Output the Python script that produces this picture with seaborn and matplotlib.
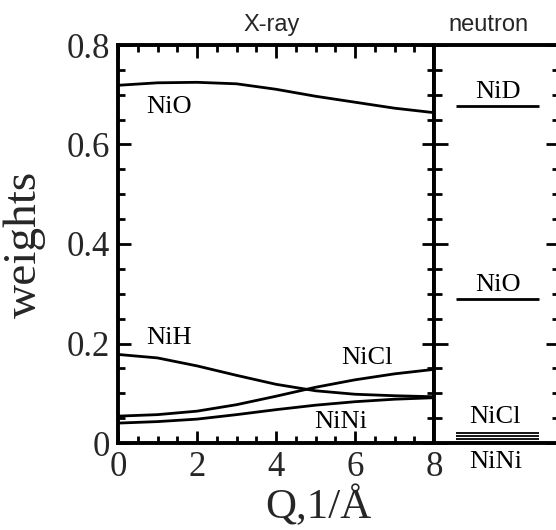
import numpy as np
import pandas as pd
import matplotlib
matplotlib.use("Agg")
import matplotlib.pyplot as plt
import seaborn as sns
from matplotlib.ticker import MultipleLocator, FuncFormatter

# ---- data ----
q = [0, 1, 2, 3, 4, 5, 6, 7, 8]
w_NiO = [0.719, 0.724, 0.725, 0.722, 0.711, 0.697, 0.685, 0.673, 0.664]
w_NiH = [0.178, 0.171, 0.155, 0.136, 0.118, 0.105, 0.098, 0.095, 0.093]
w_NiCl = [0.054, 0.057, 0.064, 0.077, 0.094, 0.112, 0.127, 0.139, 0.148]
w_NiNi = [0.040, 0.043, 0.048, 0.057, 0.067, 0.076, 0.083, 0.088, 0.091]

neutron_pairs = ["NiD", "NiO", "NiCl", "", "NiNi"]
neutron_weights = [0.677, 0.289, 0.0207, 0.0147, 0.0087]

xray_labels = ["NiO", "NiH", "NiCl", "NiNi"]

sns.set_theme(style="ticks")
plt.rcParams["font.family"] = ["Liberation Serif", "DejaVu Serif"]

W, H = 556, 530
fig = plt.figure(figsize=(W / 100, H / 100), dpi=100)

def fx(px):
    return px / W

def fy(py):
    return 1 - py / H

axL = fig.add_axes([fx(118), fy(443), (434 - 118) / W, (443 - 45) / H])
axR = fig.add_axes([fx(434), fy(443), 126 / W, (443 - 45) / H])

df = pd.DataFrame({
    "Q": q * 4,
    "weight": w_NiO + w_NiH + w_NiCl + w_NiNi,
    "pair": sum([[name] * len(q) for name in xray_labels], []),
})
sns.lineplot(data=df, x="Q", y="weight", hue="pair",
             palette=["black"] * 4, linewidth=2.0, legend=False, ax=axL)

axL.set_xlim(0, 8)
axL.set_ylim(0, 0.8)
axR.set_xlim(0, 1)
axR.set_ylim(0, 0.8)

for ax in (axL, axR):
    for s in ax.spines.values():
        s.set_linewidth(2.8)
        s.set_color("black")
    ax.set_xlabel("")
    ax.set_ylabel("")

# left axes ticks
axL.xaxis.set_major_locator(MultipleLocator(2))
axL.xaxis.set_minor_locator(MultipleLocator(0.5))
axL.yaxis.set_major_locator(MultipleLocator(0.2))
axL.yaxis.set_minor_locator(MultipleLocator(0.05))
axL.xaxis.set_major_formatter(FuncFormatter(lambda v, p: f"{v:.0f}"))
axL.yaxis.set_major_formatter(
    FuncFormatter(lambda v, p: "0" if abs(v) < 1e-9 else f"{v:.1f}"))
axL.tick_params(which="both", direction="in", top=True, right=True,
                color="black", width=2.0)
axL.tick_params(which="major", length=9)
axL.tick_params(which="minor", length=5)
axL.tick_params(axis="both", which="major", labelsize=25, pad=6)

# right axes ticks
axR.set_xticks([])
axR.yaxis.set_major_locator(MultipleLocator(0.2))
axR.yaxis.set_minor_locator(MultipleLocator(0.05))
axR.tick_params(axis="y", which="both", direction="in", left=True, right=True,
                labelleft=False, labelright=False, color="black", width=2.0)
axR.tick_params(axis="y", which="major", length=10)
axR.tick_params(axis="y", which="minor", length=6)

# neutron weights
lws = [2.0, 2.0, 1.3, 1.3, 1.3]
for val, lw in zip(neutron_weights, lws):
    axR.hlines(val, 0.175, 0.833, color="black", linewidth=lw)

ann = dict(fontsize=19, ha="center", va="center", color="black")
# x-ray labels
axL.text(1.30, 0.676, "NiO", **ann)
axL.text(1.28, 0.212, "NiH", **ann)
axL.text(6.30, 0.171, "NiCl", **ann)
axL.text(5.64, 0.043, "NiNi", **ann)
# neutron labels
axR.text(0.508, 0.705, neutron_pairs[0], **ann)
axR.text(0.508, 0.317, neutron_pairs[1], **ann)
axR.text(0.485, 0.053, neutron_pairs[2], **ann)
axR.text(0.49, -0.038, neutron_pairs[4], clip_on=False, **ann)

# titles
fig.text(fx(272), fy(25), "X-ray", family=["Liberation Sans", "DejaVu Sans"],
         fontsize=17, ha="center", va="center")
fig.text(fx(489), fy(25), "neutron", family=["Liberation Sans", "DejaVu Sans"],
         fontsize=17, ha="center", va="center")

# axis labels
fig.text(fx(25), fy(244), "weights", fontsize=34, rotation=90,
         ha="center", va="center")
fig.text(fx(318), fy(518), "Q,1/Å", fontsize=31, ha="center", va="baseline")

fig.savefig("out.png", dpi=100, facecolor="white")
